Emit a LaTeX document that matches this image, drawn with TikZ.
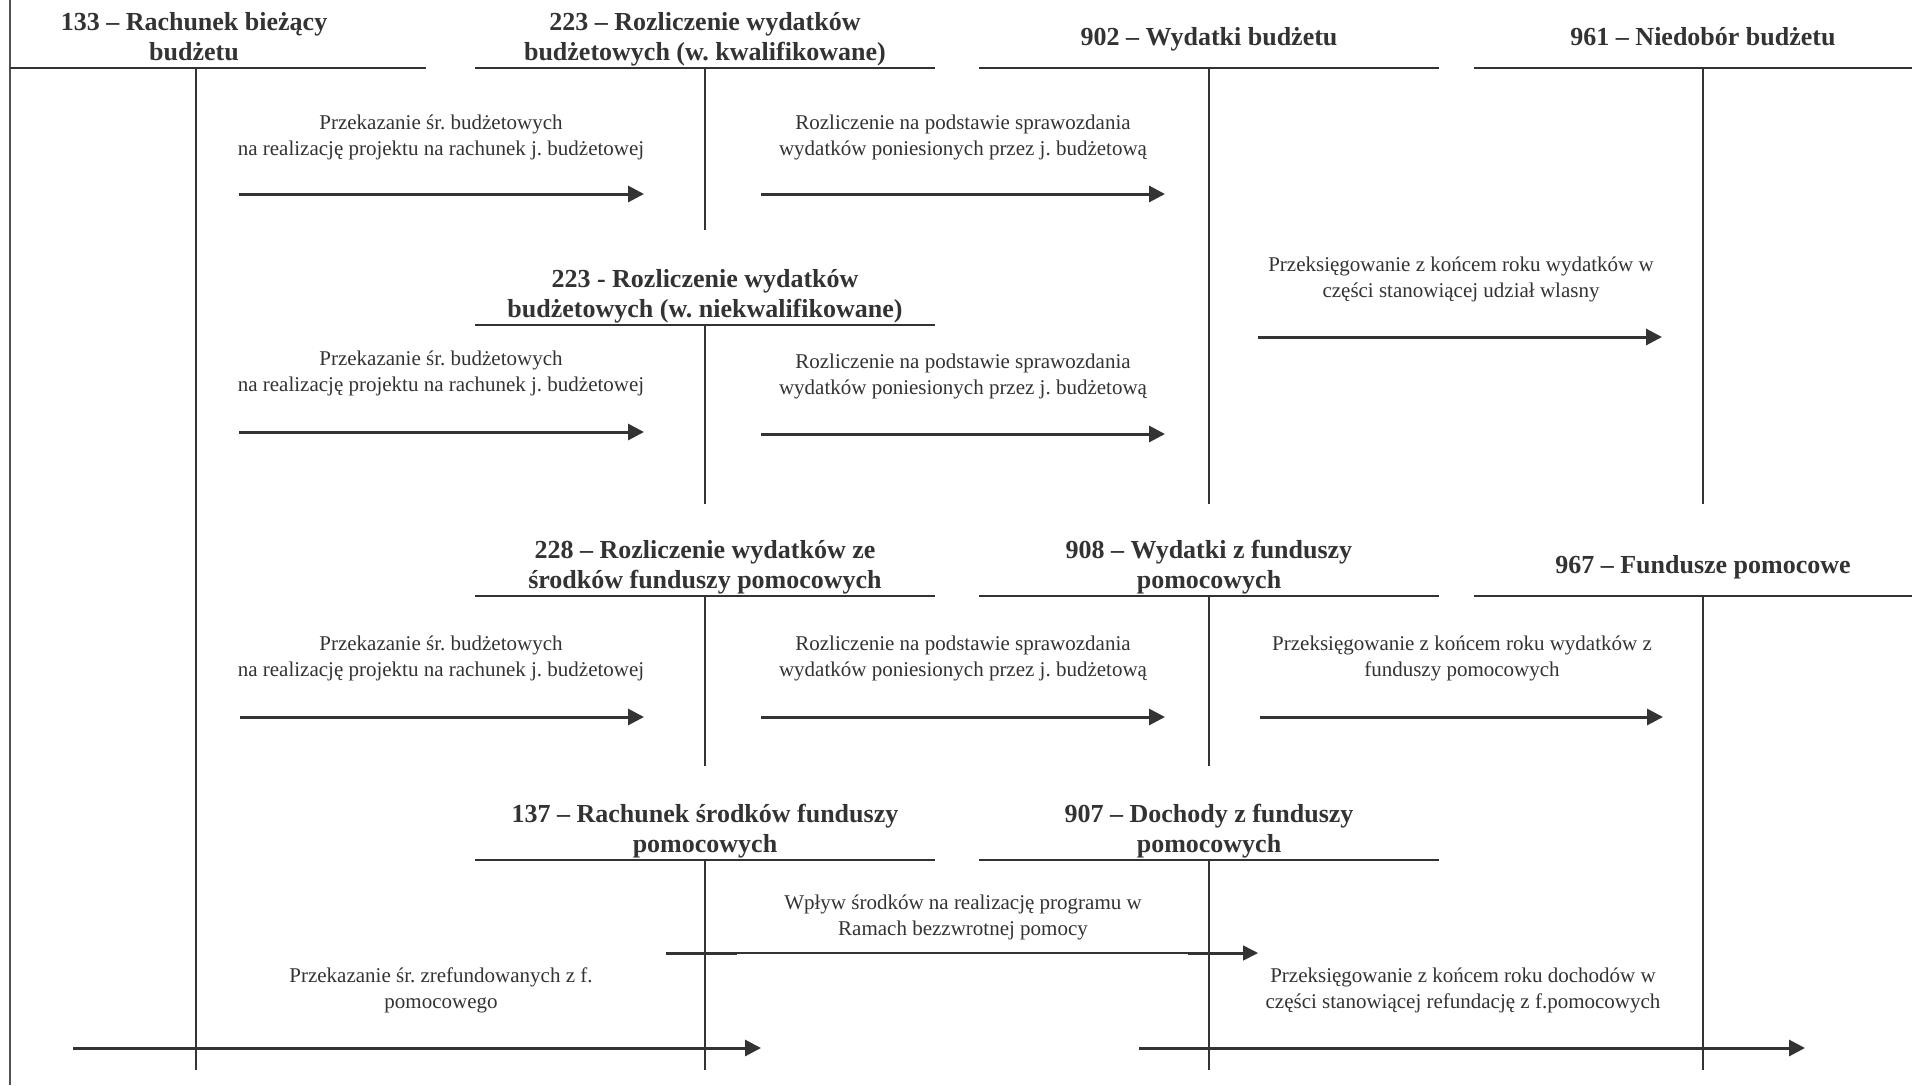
\documentclass[tikz,border=0pt]{standalone}
\usepackage{fontspec}
\setmainfont{Liberation Serif}
\usetikzlibrary{arrows.meta}
\definecolor{ink}{HTML}{333333}
\frenchspacing
\begin{document}
\begin{tikzpicture}[x=1pt,y=-1pt,
  rule/.style={draw=ink, line width=2.6pt},
  vline/.style={draw=ink, line width=2pt},
  border/.style={draw=ink!85, line width=2pt},
  flow/.style={draw=ink, line width=3pt, -{Triangle[length=16pt,width=16pt]}},
  thinflow/.style={draw=ink, line width=1.6pt, -{Triangle[length=15pt,width=15pt]}},
  thickseg/.style={draw=ink, line width=3pt},
  head/.style={font=\bfseries\fontsize{26}{30}\selectfont, text=ink, align=center, inner sep=0pt, anchor=south, execute at end node=\strut},
  lab/.style={font=\fontsize{21}{25.5}\selectfont, text=ink, align=center, inner sep=0pt, anchor=south, execute at end node=\strut},
]
\useasboundingbox (0,0) rectangle (1912,1085);
\fill[white] (0,0) rectangle (1912,1085);

% left border
\coordinate (bt) at (10,0); \coordinate (bb) at (10,1085);
\draw[border] (bt) -- (bb);

% ---- T accounts: rules and verticals
\coordinate (r133a) at (10,68);   \coordinate (r133b) at (426,68);
\coordinate (v133a) at (196,68);  \coordinate (v133b) at (196,1070);
\coordinate (r223ka) at (475,68); \coordinate (r223kb) at (935,68);
\coordinate (v223ka) at (705,68); \coordinate (v223kb) at (705,230);
\coordinate (r902a) at (979,68);  \coordinate (r902b) at (1439,68);
\coordinate (v902a) at (1209,68); \coordinate (v902b) at (1209,504);
\coordinate (r961a) at (1474,68); \coordinate (r961b) at (1912,68);
\coordinate (v961a) at (1703,68); \coordinate (v961b) at (1703,504);
\coordinate (r223na) at (475,325); \coordinate (r223nb) at (935,325);
\coordinate (v223na) at (705,325); \coordinate (v223nb) at (705,504);
\coordinate (r228a) at (475,596); \coordinate (r228b) at (935,596);
\coordinate (v228a) at (705,596); \coordinate (v228b) at (705,766);
\coordinate (r908a) at (979,596); \coordinate (r908b) at (1439,596);
\coordinate (v908a) at (1209,596); \coordinate (v908b) at (1209,766);
\coordinate (r967a) at (1474,596); \coordinate (r967b) at (1912,596);
\coordinate (v967a) at (1703,596); \coordinate (v967b) at (1703,1070);
\coordinate (r137a) at (475,860); \coordinate (r137b) at (935,860);
\coordinate (v137a) at (705,860); \coordinate (v137b) at (705,1070);
\coordinate (r907a) at (979,860); \coordinate (r907b) at (1439,860);
\coordinate (v907a) at (1209,860); \coordinate (v907b) at (1209,1070);

\foreach \n in {133,223k,902,961,223n,228,908,967,137,907}{
  \draw[rule] (r\n a) -- (r\n b);
  \draw[vline] (v\n a) -- (v\n b);
}

% ---- headers
\node[head] (h133) at (194,70) {133 – Rachunek bieżący\\budżetu};
\node[head] (h223k) at (705,70) {223 – Rozliczenie wydatków\\budżetowych (w. kwalifikowane)};
\node[head] (h902) at (1209,55) {902 – Wydatki budżetu};
\node[head] (h961) at (1703,55) {961 – Niedobór budżetu};
\node[head] (h223n) at (705,327) {223 - Rozliczenie wydatków\\budżetowych (w. niekwalifikowane)};
\node[head] (h228) at (705,598) {228 – Rozliczenie wydatków ze\\środków funduszy pomocowych};
\node[head] (h908) at (1209,598) {908 – Wydatki z funduszy\\pomocowych};
\node[head] (h967) at (1703,583) {967 – Fundusze pomocowe};
\node[head] (h137) at (705,862) {137 – Rachunek środków funduszy\\pomocowych};
\node[head] (h907) at (1209,862) {907 – Dochody z funduszy\\pomocowych};

% ---- flow labels
\node[lab] (l1) at (441,163) {Przekazanie śr. budżetowych\\na realizację projektu na rachunek j. budżetowej};
\node[lab] (l2) at (963,163) {Rozliczenie na podstawie sprawozdania\\wydatków poniesionych przez j. budżetową};
\node[lab] (l3) at (1461,305) {Przeksięgowanie z końcem roku wydatków w\\części stanowiącej udział wlasny};
\node[lab] (l4) at (441,399) {Przekazanie śr. budżetowych\\na realizację projektu na rachunek j. budżetowej};
\node[lab] (l5) at (963,402) {Rozliczenie na podstawie sprawozdania\\wydatków poniesionych przez j. budżetową};
\node[lab] (l6) at (441,684) {Przekazanie śr. budżetowych\\na realizację projektu na rachunek j. budżetowej};
\node[lab] (l7) at (963,684) {Rozliczenie na podstawie sprawozdania\\wydatków poniesionych przez j. budżetową};
\node[lab] (l8) at (1462,684) {Przeksięgowanie z końcem roku wydatków z\\funduszy pomocowych};
\node[lab] (l9) at (963,943) {Wpływ środków na realizację programu w\\Ramach bezzwrotnej pomocy};
\node[lab] (l10) at (441,1016) {Przekazanie śr. zrefundowanych z f.\\pomocowego};
\node[lab] (l11) at (1463,1016) {Przeksięgowanie z końcem roku dochodów w\\części stanowiącej refundację z f.pomocowych};

% ---- flows
\coordinate (a1s) at (239,194);  \coordinate (a1e) at (644,194);
\coordinate (a2s) at (761,194);  \coordinate (a2e) at (1165,194);
\coordinate (a3s) at (1258,337); \coordinate (a3e) at (1662,337);
\coordinate (a4s) at (239,432);  \coordinate (a4e) at (644,432);
\coordinate (a5s) at (761,434);  \coordinate (a5e) at (1165,434);
\coordinate (a6s) at (240,717);  \coordinate (a6e) at (644,717);
\coordinate (a7s) at (761,717);  \coordinate (a7e) at (1165,717);
\coordinate (a8s) at (1260,717); \coordinate (a8e) at (1663,717);
\coordinate (a10s) at (73,1048); \coordinate (a10e) at (761,1048);
\coordinate (a11s) at (1139,1048); \coordinate (a11e) at (1805,1048);
\foreach \n in {1,2,3,4,5,6,7,8,10,11}{
  \draw[flow] (a\n s) -- (a\n e);
}
\coordinate (a9s) at (666,953);  \coordinate (a9e) at (1258,953);
\coordinate (a9m1) at (737,953); \coordinate (a9m2) at (1188,953);
\draw[thinflow] (a9s) -- (a9e);
\draw[thickseg] (a9s) -- (a9m1);
\draw[thickseg] (a9m2) -- ([xshift=-12pt]a9e);
\end{tikzpicture}
\end{document}
